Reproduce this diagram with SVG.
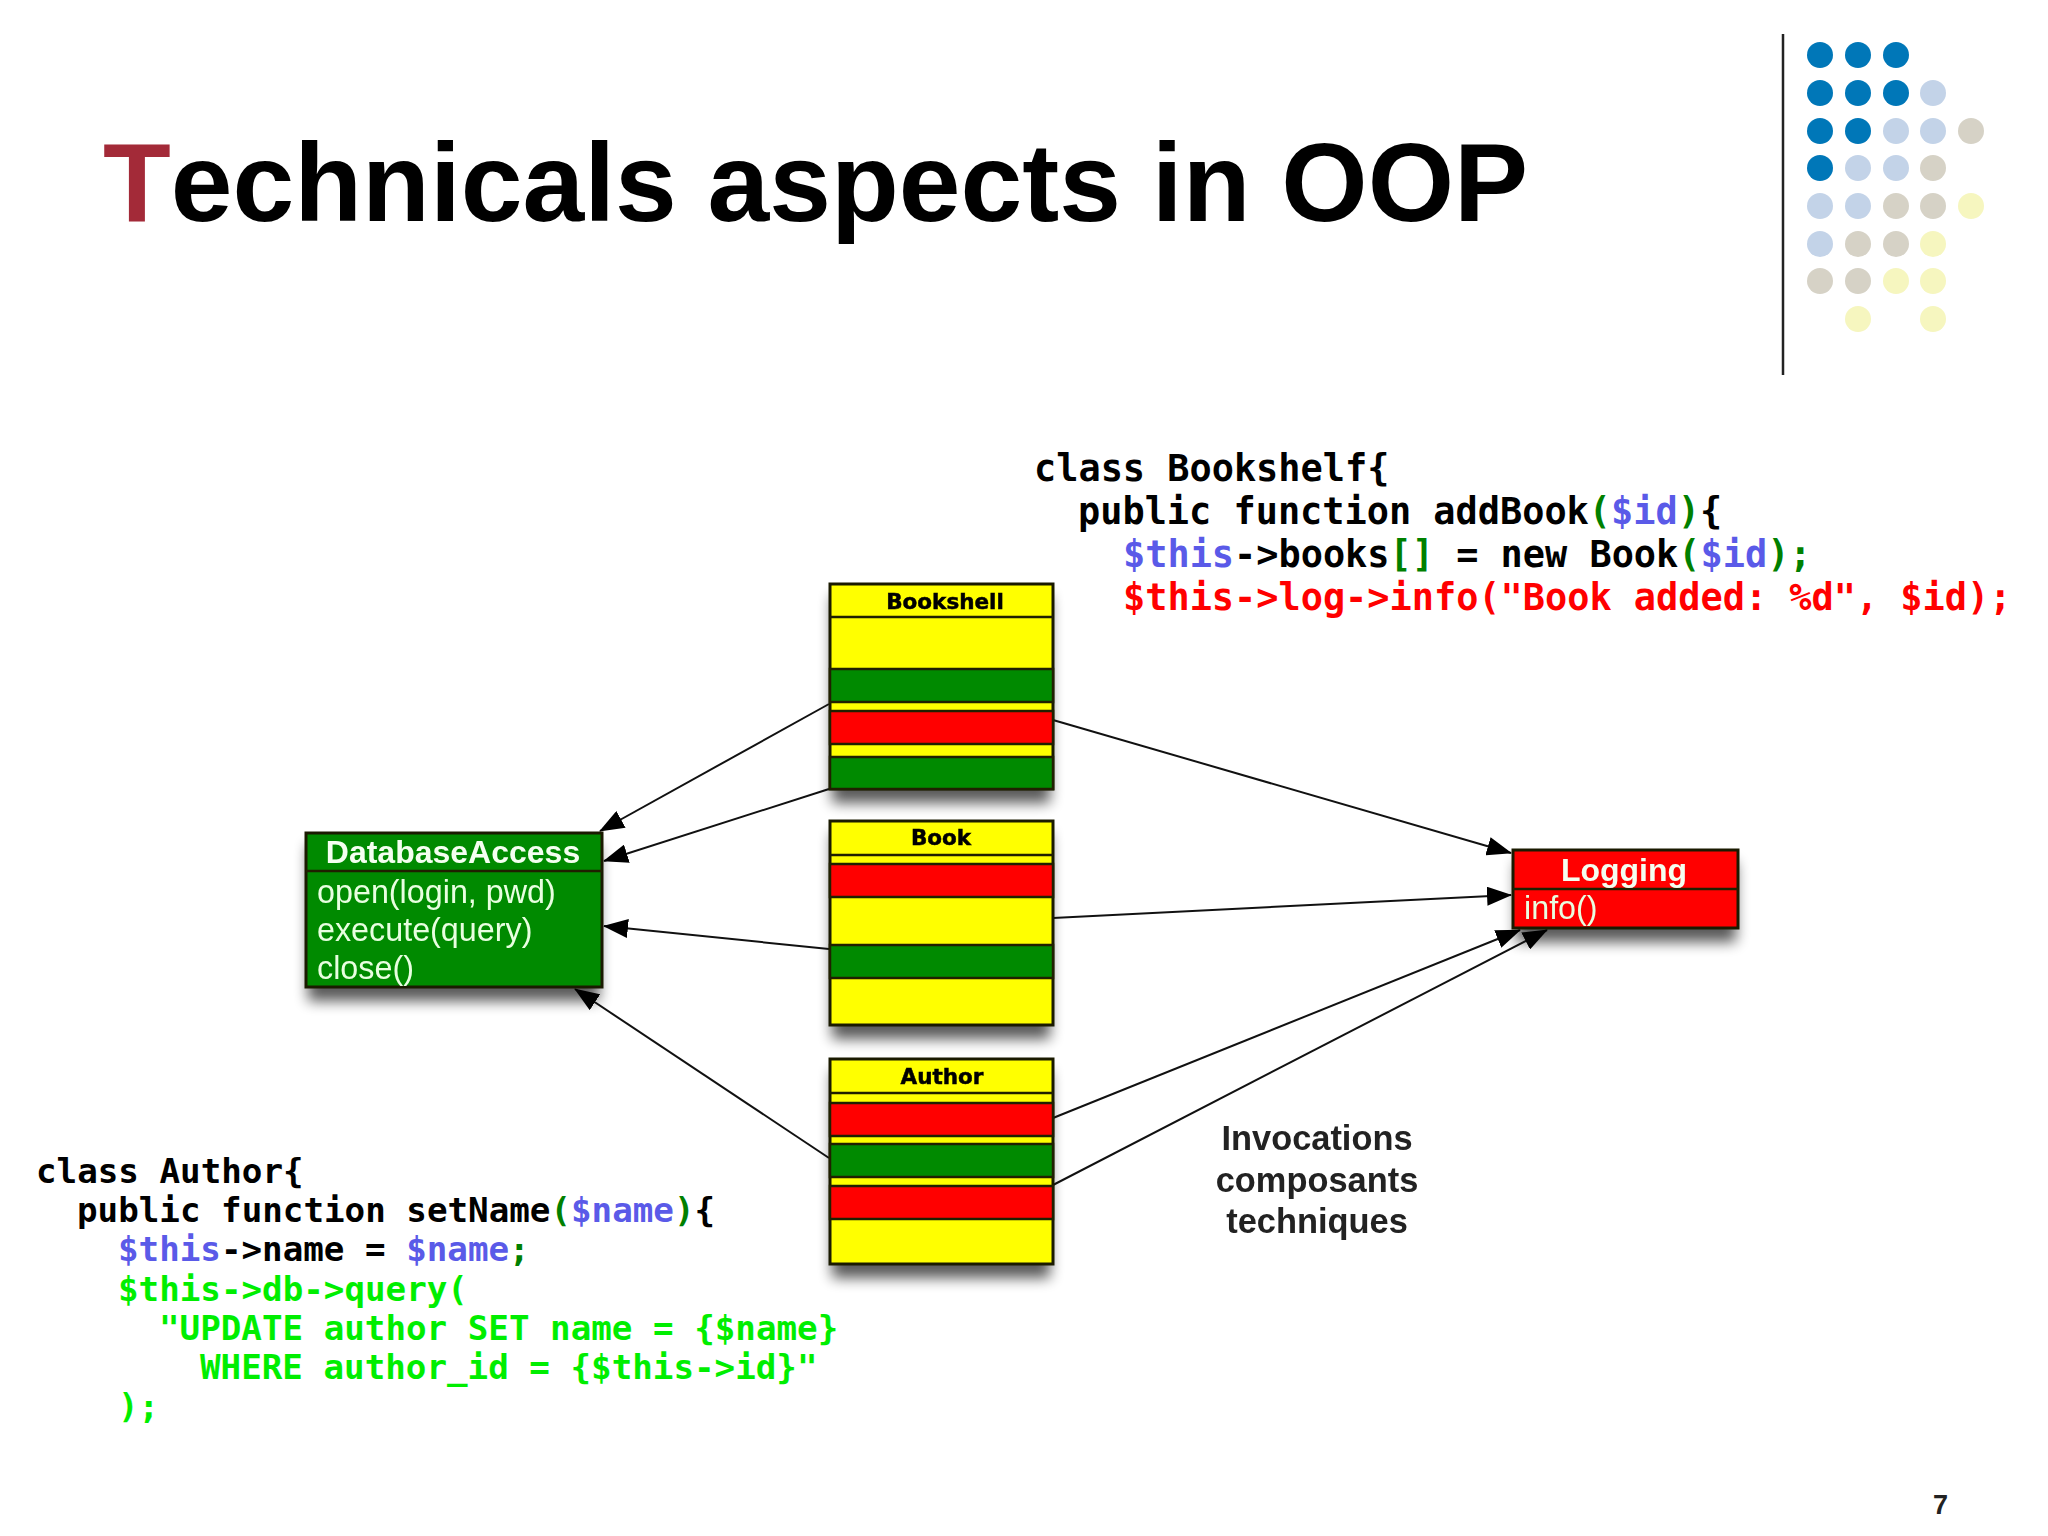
<svg xmlns="http://www.w3.org/2000/svg" width="2048" height="1536" viewBox="0 0 2048 1536">
<style>
.code{font-family:"DejaVu Sans Mono","Liberation Mono",monospace;font-weight:bold;fill:#000;white-space:pre}
.c1{font-size:36.9px}.c2{font-size:34.2px}
.b{fill:#5a5ae8}.g{fill:#008000}.r{fill:#f00}.lg{fill:#00ee00}
.box{stroke:#1a1a00;stroke-width:3}
.y{fill:#ff0}.gr{fill:#008a00}.re{fill:#f00}
.band{stroke:#202000;stroke-width:2.5}
.t{font-family:"DejaVu Sans",sans-serif;font-weight:bold;font-size:21.5px;text-anchor:middle;fill:#000;stroke:#000;stroke-width:.5}
.h{font-family:"Liberation Sans",sans-serif;font-weight:bold;font-size:32px;text-anchor:middle;fill:#f4fff0}
.m{font-family:"Liberation Sans",sans-serif;font-size:32.3px;fill:#e8ffe0}
.n{font-family:"Liberation Sans",sans-serif;font-size:34.4px;text-anchor:middle;fill:#222;font-weight:bold}
.ln{stroke:#111;stroke-width:2;fill:none;marker-end:url(#arr)}
.d1{fill:#0077b8}.d2{fill:#c3d3e8}.d3{fill:#d6d2c6}.d4{fill:#f6f6bf}
.soft{filter:url(#soft)}
</style>
<defs>
<marker id="arr" viewBox="0 0 25 19" refX="24" refY="9.5" markerWidth="25" markerHeight="19" markerUnits="userSpaceOnUse" orient="auto"><path d="M0 0L25 9.5L0 19Z" fill="#000"/></marker>
<filter id="sh" x="-15%" y="-15%" width="130%" height="135%"><feGaussianBlur stdDeviation="7"/></filter>
<filter id="soft" x="-2%" y="-2%" width="104%" height="104%"><feGaussianBlur stdDeviation="0.6"/></filter>
</defs>
<rect width="2048" height="1536" fill="#fff"/>

<g id="title"><text x="103" y="221" font-family="Liberation Sans, sans-serif" font-weight="bold" font-size="111" style="font-kerning:none"><tspan fill="#a32a38">T</tspan>echnicals aspects in OOP</text></g>

<g id="decoration">
<line x1="1783" y1="34" x2="1783" y2="375" stroke="#222" stroke-width="2.5"/>
<g id="dots">
<circle class="d1" cx="1820" cy="55" r="13"/><circle class="d1" cx="1858" cy="55" r="13"/><circle class="d1" cx="1896" cy="55" r="13"/>
<circle class="d1" cx="1820" cy="93" r="13"/><circle class="d1" cx="1858" cy="93" r="13"/><circle class="d1" cx="1896" cy="93" r="13"/><circle class="d2" cx="1933" cy="93" r="13"/>
<circle class="d1" cx="1820" cy="131" r="13"/><circle class="d1" cx="1858" cy="131" r="13"/><circle class="d2" cx="1896" cy="131" r="13"/><circle class="d2" cx="1933" cy="131" r="13"/><circle class="d3" cx="1971" cy="131" r="13"/>
<circle class="d1" cx="1820" cy="168" r="13"/><circle class="d2" cx="1858" cy="168" r="13"/><circle class="d2" cx="1896" cy="168" r="13"/><circle class="d3" cx="1933" cy="168" r="13"/>
<circle class="d2" cx="1820" cy="206" r="13"/><circle class="d2" cx="1858" cy="206" r="13"/><circle class="d3" cx="1896" cy="206" r="13"/><circle class="d3" cx="1933" cy="206" r="13"/><circle class="d4" cx="1971" cy="206" r="13"/>
<circle class="d2" cx="1820" cy="244" r="13"/><circle class="d3" cx="1858" cy="244" r="13"/><circle class="d3" cx="1896" cy="244" r="13"/><circle class="d4" cx="1933" cy="244" r="13"/>
<circle class="d3" cx="1820" cy="281" r="13"/><circle class="d3" cx="1858" cy="281" r="13"/><circle class="d4" cx="1896" cy="281" r="13"/><circle class="d4" cx="1933" cy="281" r="13"/>
<circle class="d4" cx="1858" cy="319" r="13"/><circle class="d4" cx="1933" cy="319" r="13"/>
</g></g>

<g id="shadows" fill="#000" opacity="0.65" filter="url(#sh)">
<rect x="832" y="596" width="218" height="207"/>
<rect x="832" y="833" width="218" height="206"/>
<rect x="832" y="1071" width="218" height="207"/>
<rect x="308" y="845" width="291" height="156"/>
<rect x="1516" y="862" width="220" height="80"/>
</g>

<g id="connectors">
<line class="ln" x1="829" y1="704" x2="600" y2="831"/>
<line class="ln" x1="829" y1="789" x2="604" y2="861"/>
<line class="ln" x1="829" y1="949" x2="604" y2="926"/>
<line class="ln" x1="829" y1="1158" x2="575" y2="989"/>
<line class="ln" x1="1053" y1="720" x2="1511" y2="853"/>
<line class="ln" x1="1053" y1="918" x2="1511" y2="895"/>
<line class="ln" x1="1053" y1="1118" x2="1520" y2="930"/>
<line class="ln" x1="1053" y1="1185" x2="1547" y2="930"/>
</g>

<g id="bookshelf">
<rect class="box y" x="830" y="584" width="223" height="205"/>
<line class="band" x1="830" y1="617" x2="1053" y2="617"/>
<rect class="band gr" x="830" y="669" width="223" height="33"/>
<rect class="band re" x="830" y="711" width="223" height="33"/>
<rect class="band gr" x="830" y="757" width="223" height="32"/>
<text class="t soft" x="945" y="609">Bookshell</text>
</g>
<g id="book">
<rect class="box y" x="830" y="821" width="223" height="204"/>
<line class="band" x1="830" y1="855" x2="1053" y2="855"/>
<rect class="band re" x="830" y="864" width="223" height="33"/>
<rect class="band gr" x="830" y="945" width="223" height="33"/>
<text class="t soft" x="941" y="845">Book</text>
</g>
<g id="author">
<rect class="box y" x="830" y="1059" width="223" height="205"/>
<line class="band" x1="830" y1="1093" x2="1053" y2="1093"/>
<rect class="band re" x="830" y="1103" width="223" height="33"/>
<rect class="band gr" x="830" y="1144" width="223" height="33"/>
<rect class="band re" x="830" y="1186" width="223" height="33"/>
<text class="t soft" x="942" y="1084">Author</text>
</g>
<g id="databaseaccess">
<rect class="box gr" x="306" y="833" width="296" height="154"/>
<line class="band" x1="306" y1="871" x2="602" y2="871"/>
<text class="h soft" x="453" y="863">DatabaseAccess</text>
<text class="m soft" x="317" y="903">open(login, pwd)</text>
<text class="m soft" x="317" y="941">execute(query)</text>
<text class="m soft" x="317" y="979">close()</text>
</g>
<g id="logging">
<rect class="box re" x="1513" y="850" width="225" height="78"/>
<line class="band" x1="1513" y1="889" x2="1738" y2="889" stroke="#600"/>
<text class="h soft" x="1624" y="881" fill="#ffe8e8">Logging</text>
<text class="m soft" x="1524" y="919" fill="#ffe8e8">info()</text>
</g>

<g id="invocations" class="soft">
<text class="n" x="1317" y="1150">Invocations</text>
<text class="n" x="1317" y="1192">composants</text>
<text class="n" x="1317" y="1233">techniques</text>
</g>

<g id="code-bookshelf" class="code c1">
<text x="1034" y="481">class Bookshelf{</text>
<text x="1078" y="524">public function addBook<tspan class="g">(</tspan><tspan class="b">$id</tspan><tspan class="g">)</tspan>{</text>
<text x="1123" y="567"><tspan class="b">$this</tspan>-&gt;books<tspan class="g">[]</tspan> = new Book<tspan class="g">(</tspan><tspan class="b">$id</tspan><tspan class="g">);</tspan></text>
<text x="1123" y="610" class="r">$this-&gt;log-&gt;info("Book added: %d", $id);</text>
</g>
<g id="code-author" class="code c2">
<text x="36" y="1183">class Author{</text>
<text x="77" y="1222">public function setName<tspan class="g">(</tspan><tspan class="b">$name</tspan><tspan class="g">)</tspan>{</text>
<text x="118" y="1261"><tspan class="b">$this</tspan>-&gt;name = <tspan class="b">$name</tspan><tspan class="g">;</tspan></text>
<text x="118" y="1301" class="lg">$this-&gt;db-&gt;query(</text>
<text x="159" y="1340" class="lg">"UPDATE author SET name = {$name}</text>
<text x="200" y="1379" class="lg">WHERE author_id = {$this-&gt;id}"</text>
<text x="118" y="1418" class="lg">);</text>
</g>
<g id="page"><text x="1933" y="1514" font-family="Liberation Sans, sans-serif" font-weight="bold" font-size="27" fill="#222">7</text></g>
</svg>
